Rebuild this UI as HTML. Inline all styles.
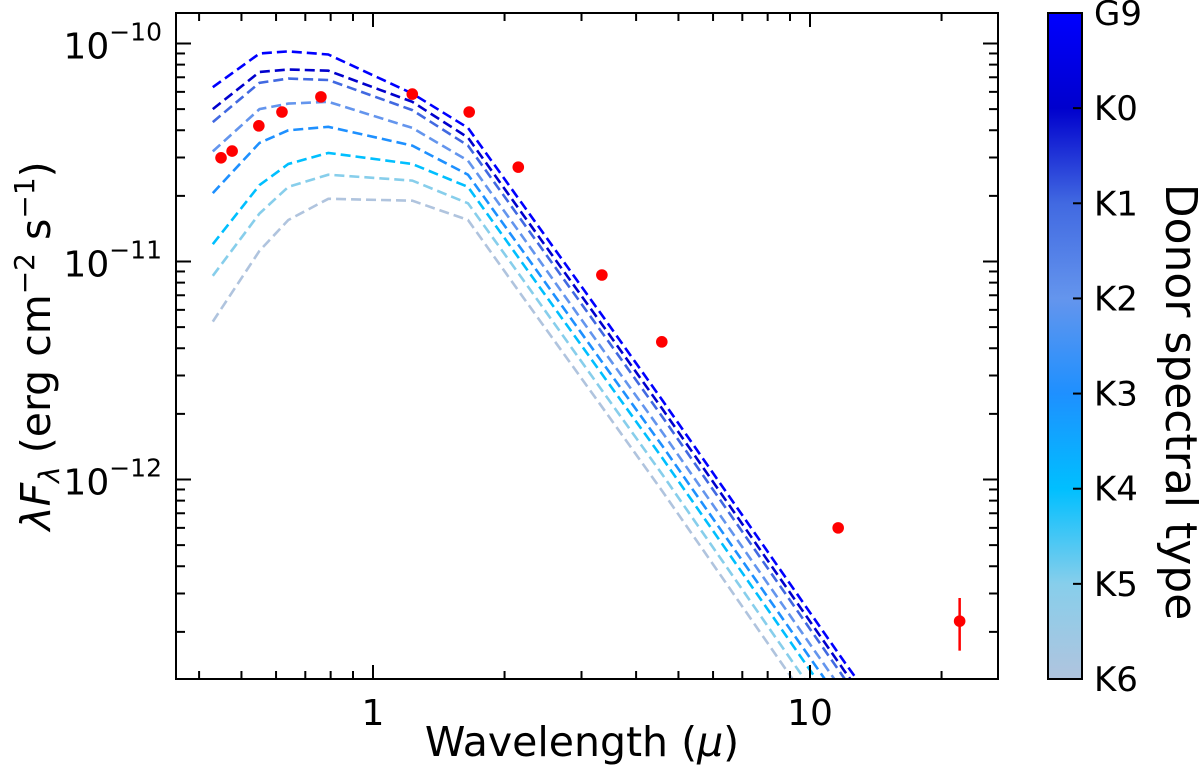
<!DOCTYPE html>
<html><head><meta charset="utf-8"><style>
body{margin:0;background:#fff;overflow:hidden;}
svg{display:block;font-family:"DejaVu Sans","Liberation Sans",sans-serif;}
</style></head><body>
<svg id="chart" width="1200" height="774" viewBox="0 0 1200 774" xmlns="http://www.w3.org/2000/svg">
<defs>
<linearGradient id="cbg" x1="0" y1="0" x2="0" y2="1">
<stop offset="0" stop-color="#0000ff"/><stop offset="0.1429" stop-color="#0000cd"/>
<stop offset="0.2857" stop-color="#4169e1"/><stop offset="0.4286" stop-color="#6495ed"/>
<stop offset="0.5714" stop-color="#1e90ff"/><stop offset="0.7143" stop-color="#00bfff"/>
<stop offset="0.8571" stop-color="#87ceeb"/><stop offset="1" stop-color="#b0c4de"/>
</linearGradient>
<clipPath id="pc"><rect x="176" y="13" width="822" height="666"/></clipPath>
</defs>
<g id="models" clip-path="url(#pc)"></g>
<g id="obs"></g>
<g id="axes"></g>
</svg>
<script>
const modelWl = [0.43, 0.55, 0.64, 0.79, 1.23, 1.65, 2.2, 3.4, 4.6, 12, 13];
const spectralTypes = ["G9","K0","K1","K2","K3","K4","K5","K6"];
const lineColors = ["#0000ff","#0000cd","#4169e1","#6495ed","#1e90ff","#00bfff","#87ceeb","#b0c4de"];
const modelG9 = [6.3e-11, 9.0e-11, 9.2e-11, 8.9e-11, 5.9e-11, 4.1e-11, 1.83e-11, 5.4e-12, 2.3e-12, 1.45e-13, 1.16e-13];
const modelK0 = [5.0e-11, 7.4e-11, 7.6e-11, 7.5e-11, 5.4e-11, 3.7e-11, 1.65e-11, 4.9e-12, 2.1e-12, 1.32e-13, 1.06e-13];
const modelK1 = [4.36e-11, 6.6e-11, 6.9e-11, 6.8e-11, 4.95e-11, 3.4e-11, 1.52e-11, 4.5e-12, 1.93e-12, 1.22e-13, 9.8e-14];
const modelK2 = [3.2e-11, 5.0e-11, 5.3e-11, 5.4e-11, 4.1e-11, 2.9e-11, 1.3e-11, 3.8e-12, 1.64e-12, 1.04e-13, 8.3e-14];
const modelK3 = [2.06e-11, 3.5e-11, 4.0e-11, 4.15e-11, 3.4e-11, 2.5e-11, 1.12e-11, 3.3e-12, 1.42e-12, 9.0e-14, 7.2e-14];
const modelK4 = [1.2e-11, 2.24e-11, 2.8e-11, 3.15e-11, 2.8e-11, 2.2e-11, 9.8e-12, 2.9e-12, 1.25e-12, 7.9e-14, 6.3e-14];
const modelK5 = [8.6e-12, 1.66e-11, 2.2e-11, 2.5e-11, 2.35e-11, 1.85e-11, 8.3e-12, 2.44e-12, 1.05e-12, 6.6e-14, 5.3e-14];
const modelK6 = [5.3e-12, 1.12e-11, 1.55e-11, 1.94e-11, 1.9e-11, 1.55e-11, 6.9e-12, 2.05e-12, 8.8e-13, 5.5e-14, 4.5e-14];
const obsWl = [0.449, 0.476, 0.548, 0.619, 0.760, 1.23, 1.66, 2.15, 3.34, 4.58, 11.6, 22.0];
const obsFlux = [2.99e-11, 3.21e-11, 4.19e-11, 4.85e-11, 5.69e-11, 5.86e-11, 4.85e-11, 2.71e-11, 8.67e-12, 4.28e-12, 6.0e-13, 2.24e-13];
const obsErrLo = [0,0,0,0,0,0,0,0,0,0,0,1.64e-13];
const obsErrHi = [0,0,0,0,0,0,0,0,0,0,0,2.86e-13];
const xTickVals = [1, 10];
const xTickLabels = ["1", "10"];
const yTickExps = [-10, -11, -12];

const NS="http://www.w3.org/2000/svg";
const L=176,R=998,T=13,B=679;
const X=v=>373+437*Math.log10(v);
const Y=v=>43.5-218*(Math.log10(v)+10);
function mk(tag,attrs,parent){const e=document.createElementNS(NS,tag);for(const k in attrs)e.setAttribute(k,attrs[k]);parent.appendChild(e);return e;}
const models=document.getElementById('models'),obs=document.getElementById('obs'),ax=document.getElementById('axes');
const series=[modelG9,modelK0,modelK1,modelK2,modelK3,modelK4,modelK5,modelK6];
series.slice().reverse().forEach((s,ri)=>{const i=series.length-1-ri;
 const p=mk('polyline',{points:s.map((v,j)=>X(modelWl[j]).toFixed(1)+','+Y(v).toFixed(1)).join(' '),fill:'none',stroke:lineColors[i],'stroke-width':2.6,'stroke-dasharray':'10,5'},models);
 
 
});
obsWl.forEach((w,i)=>{
 if(obsErrHi[i]>0){const e=mk('line',{x1:X(w),x2:X(w),y1:Y(obsErrLo[i]),y2:Y(obsErrHi[i]),stroke:'#ff0000','stroke-width':2.5},obs);
  
  }
 const c=mk('circle',{cx:X(w),cy:Y(obsFlux[i]),r:5.8,fill:'#ff0000'},obs);
 
 
});
const fr=mk('rect',{x:L,y:T,width:R-L,height:B-T,fill:'none',stroke:'#000','stroke-width':2},ax);


for(let d=-1;d<=1;d++)for(let m=1;m<=9;m++){const v=m*Math.pow(10,d);const x=X(v);if(x<L||x>R)continue;const len=m===1?14:8;
 mk('line',{x1:x,x2:x,y1:B,y2:B-len,stroke:'#000','stroke-width':2},ax);mk('line',{x1:x,x2:x,y1:T,y2:T+len,stroke:'#000','stroke-width':2},ax);}
xTickVals.forEach((v,i)=>{const t=mk('text',{x:X(v),y:B+46,'font-size':36,'text-anchor':'middle'},ax);t.textContent=xTickLabels[i];
 
 });
for(let e=-13;e<=-10;e++)for(let m=1;m<=9;m++){const v=m*Math.pow(10,e);const y=Y(v);if(y<T||y>B)continue;const len=m===1?15:9;
 mk('line',{x1:L,x2:L+len,y1:y,y2:y,stroke:'#000','stroke-width':2},ax);mk('line',{x1:R,x2:R-len,y1:y,y2:y,stroke:'#000','stroke-width':2},ax);}
yTickExps.forEach(e=>{const y=Y(Math.pow(10,e));const t=mk('text',{x:162,y:y+15,'font-size':36,'text-anchor':'end'},ax);
 t.innerHTML='10<tspan dy="-18" font-size="25">−'+(-e)+'</tspan>';
 
 });
const xt=mk('text',{x:582,y:756,'font-size':41,'text-anchor':'middle'},ax);xt.innerHTML='Wavelength (<tspan font-style="italic">μ</tspan>)';


const yt=mk('text',{transform:'translate(50,346) rotate(-90)','font-size':41,'text-anchor':'middle'},ax);
yt.innerHTML='<tspan font-style="italic">λF</tspan><tspan font-style="italic" font-size="28" dy="9">λ</tspan><tspan dy="-9"> (erg cm</tspan><tspan dy="-16" font-size="28">−2</tspan><tspan dy="16"> s</tspan><tspan dy="-16" font-size="28">−1</tspan><tspan dy="16">)</tspan>';


const cb=mk('rect',{x:1048,y:13,width:34,height:666,fill:'url(#cbg)',stroke:'#000','stroke-width':2},ax);


spectralTypes.forEach((s,i)=>{const y=13+i*666/7;
 if(i>0&&i<7)mk('line',{x1:1082,x2:1073,y1:y,y2:y,stroke:'#000','stroke-width':2},ax);
 const t=mk('text',{x:1094,y:y+12,'font-size':34},ax);t.textContent=s;
 
 });
const ct=mk('text',{transform:'translate(1166,402) rotate(90)','font-size':44,'text-anchor':'middle'},ax);ct.textContent='Donor spectral type';


</script>
</body></html>
